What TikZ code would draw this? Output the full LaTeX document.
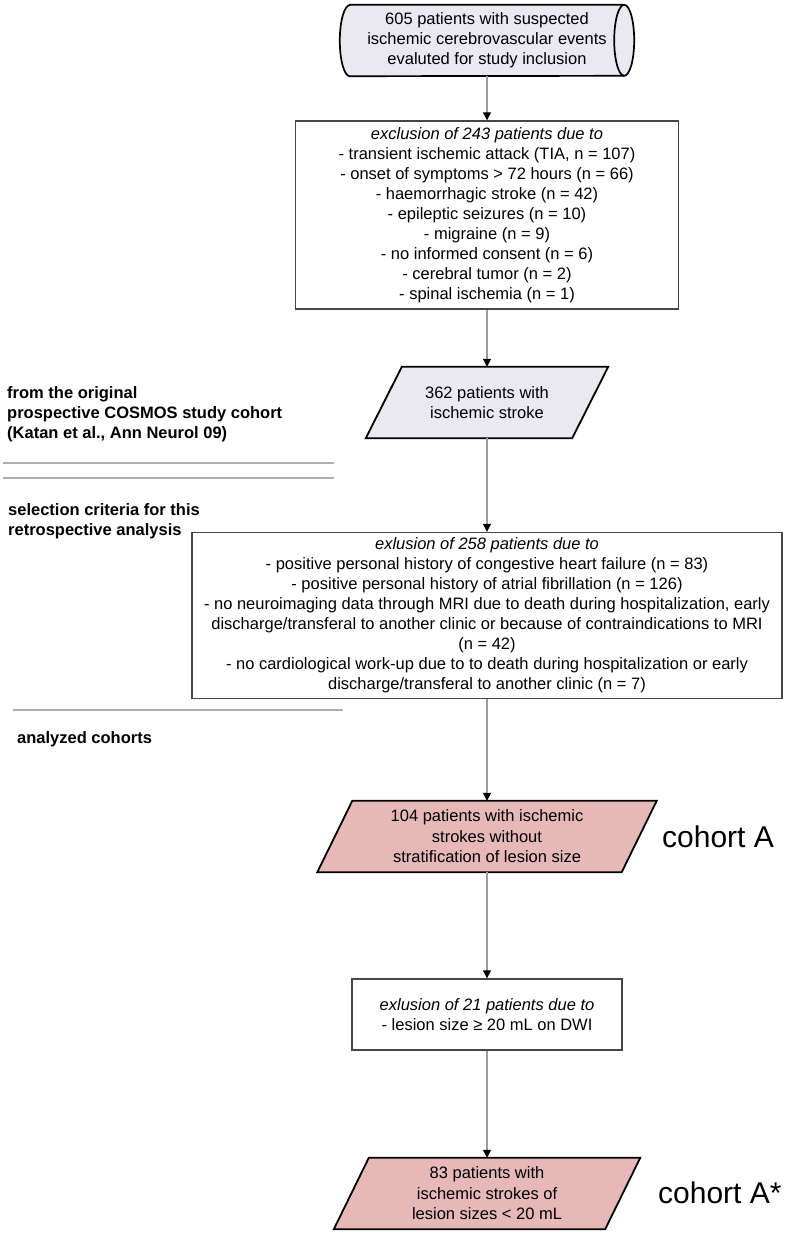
\documentclass[tikz,border=0pt]{standalone}
\usepackage{fontspec}
\setmainfont{Liberation Sans}
\usetikzlibrary{arrows.meta,backgrounds}
\definecolor{lav}{RGB}{234,232,240}
\definecolor{pinkf}{RGB}{230,185,184}
\definecolor{sepgray}{RGB}{175,175,175}
\definecolor{arrgray}{RGB}{155,155,155}
\definecolor{boxgray}{RGB}{70,70,70}
\tikzset{
  txt/.style={font=\fontsize{16.5bp}{20bp}\selectfont, align=center, inner sep=0pt},
  boxnode/.style={txt, draw=boxgray, line width=1.4bp},
  paratext/.style={txt, minimum height=71bp, font=\fontsize{16.5bp}{20.5bp}\selectfont},
  parashape/.style={draw=black, line width=1.8bp, line join=miter},
  flow/.style={draw=arrgray, line width=1.2bp, -{Triangle[width=8bp,length=8bp,color=black,fill=black]}},
  sepline/.style={draw=sepgray, line width=1.3bp},
  lbl/.style={font=\bfseries\fontsize{16.5bp}{20bp}\selectfont, align=left, inner sep=0pt, anchor=north west},
  cohort/.style={font=\fontsize{30bp}{36bp}\selectfont, inner sep=0pt, anchor=west}
}
\begin{document}
\begin{tikzpicture}[x=1bp,y=-1bp]
\useasboundingbox (0,0) rectangle (788,1235);

% cylinder (start)
\node[txt, minimum width=294bp, minimum height=71bp] (cyl) at (487,40.5)
  {605 patients with suspected\\ischemic cerebrovascular events\\evaluted for study inclusion};
\begin{scope}[on background layer]
\draw[fill=lav, line width=1.7bp]
  ([xshift=10bp]cyl.north west) -- ([xshift=-10bp]cyl.north east)
  arc[start angle=90, end angle=-90, x radius=10bp, y radius=35.5bp]
  -- ([xshift=10bp]cyl.south west)
  arc[start angle=270, end angle=90, x radius=10bp, y radius=35.5bp] -- cycle;
\draw[line width=1.7bp] ([xshift=-10bp]cyl.north east)
  arc[start angle=90, end angle=270, x radius=10bp, y radius=35.5bp];
\end{scope}

% box 1
\node[boxnode, minimum width=383bp, minimum height=188bp] (b1) at (487,215)
  {\textit{exclusion of 243 patients due to}\\
   - transient ischemic attack (TIA, n = 107)\\
   - onset of symptoms > 72 hours (n = 66)\\
   - haemorrhagic stroke (n = 42)\\
   - epileptic seizures (n = 10)\\
   - migraine (n = 9)\\
   - no informed consent (n = 6)\\
   - cerebral tumor (n = 2)\\
   - spinal ischemia (n = 1)};

% parallelogram 1
\node[paratext, minimum width=242bp] (p1) at (487,402.5)
  {362 patients with\\ischemic stroke};
\begin{scope}[on background layer]
\draw[parashape, fill=lav] (p1.south west) -- ([xshift=36bp]p1.north west)
  -- (p1.north east) -- ([xshift=-36bp]p1.south east) -- cycle;
\end{scope}

% box 2
\node[boxnode, minimum width=590bp, minimum height=166bp] (b2) at (487,615.5)
  {\textit{exlusion of 258 patients due to}\\
   - positive personal history of congestive heart failure (n = 83)\\
   - positive personal history of atrial fibrillation (n = 126)\\
   - no neuroimaging data through MRI due to death during hospitalization, early\\
   discharge/transferal to another clinic or because of contraindications to MRI\\
   (n = 42)\\
   - no cardiological work-up due to to death during hospitalization or early\\
   discharge/transferal to another clinic (n = 7)};

% parallelogram 2
\node[paratext, minimum width=339bp] (p2) at (487,836.5)
  {104 patients with ischemic\\strokes without\\stratification of lesion size};
\begin{scope}[on background layer]
\draw[parashape, fill=pinkf] (p2.south west) -- ([xshift=35bp]p2.north west)
  -- (p2.north east) -- ([xshift=-35bp]p2.south east) -- cycle;
\end{scope}

% box 3
\node[boxnode, minimum width=270bp, minimum height=71bp] (b3) at (487,1014.5)
  {\textit{exlusion of 21 patients due to}\\- lesion size ≥ 20 mL on DWI};

% parallelogram 3
\node[paratext, minimum width=306bp] (p3) at (487,1193.5)
  {83 patients with\\ischemic strokes of\\lesion sizes < 20 mL};
\begin{scope}[on background layer]
\draw[parashape, fill=pinkf] (p3.south west) -- ([xshift=35bp]p3.north west)
  -- (p3.north east) -- ([xshift=-35bp]p3.south east) -- cycle;
\end{scope}

% connectors
\draw[flow] (cyl.south) -- (b1.north);
\draw[flow] (b1.south) -- (p1.north);
\draw[flow] (p1.south) -- (b2.north);
\draw[flow] (b2.south) -- (p2.north);
\draw[flow] (p2.south) -- (b3.north);
\draw[flow] (b3.south) -- (p3.north);

% left labels
\node[lbl] (l1) at (7,386) {from the original\\prospective COSMOS study cohort\\(Katan et al., Ann Neurol 09)};
\node[lbl] (l2) at (8,503) {selection criteria for this\\retrospective analysis};
\node[lbl] (l3) at (17,731) {analyzed cohorts};

% separators
\coordinate (s1a) at (3,463);   \coordinate (s1b) at (334,463);
\coordinate (s2a) at (3,478);   \coordinate (s2b) at (334,478);
\coordinate (s3a) at (13,710);  \coordinate (s3b) at (343,710);
\draw[sepline] (s1a) -- (s1b);
\draw[sepline] (s2a) -- (s2b);
\draw[sepline] (s3a) -- (s3b);

% cohort labels
\node[cohort] (cA) at (662,837) {cohort A};
\node[cohort] (cAs) at (658,1193) {cohort A*};
\end{tikzpicture}
\end{document}
